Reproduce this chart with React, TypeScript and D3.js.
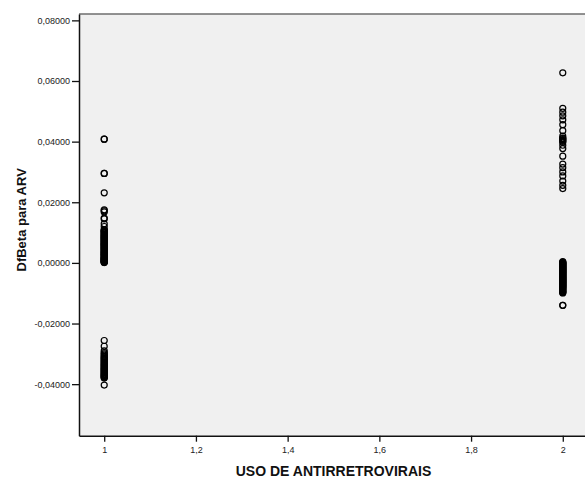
import { useEffect, useRef } from "react";
import * as d3 from "d3";

// DfBeta values, by group of USO DE ANTIRRETROVIRAIS
const group1Values = [
  0.0408, 0.0408, 0.0295, 0.0295, 0.0231, 0.0175, 0.0172, 0.0168, 0.0148, 0.0145,
  0.0129, 0.012, 0.011, 0.0108, 0.0106, 0.0104, 0.0102, 0.01, 0.0098, 0.0095,
  0.0093, 0.0091, 0.0089, 0.0087, 0.0085, 0.0083, 0.0081, 0.0079, 0.0077, 0.0075,
  0.0073, 0.0071, 0.0069, 0.0067, 0.0065, 0.0063, 0.0061, 0.006, 0.0058, 0.0056,
  0.0054, 0.0052, 0.005, 0.0048, 0.0046, 0.0044, 0.0042, 0.004, 0.0038, 0.0036,
  0.0034, 0.0032, 0.0031, 0.0029, 0.0027, 0.0025, 0.0024, 0.0022, 0.002, 0.0018,
  0.0017, 0.0015, 0.0014, 0.0012, 0.0011, 0.0009, 0.0008, 0.0006, 0.0005, 0.0004,
  0.0003, 0.0002, 0.0001,
  -0.0256, -0.0275, -0.029, -0.0296, -0.03, -0.0304, -0.0308, -0.0311, -0.0314,
  -0.0317, -0.032, -0.0323, -0.0326, -0.0329, -0.0332, -0.0335, -0.0338, -0.034,
  -0.0343, -0.0346, -0.0348, -0.0351, -0.0353, -0.0356, -0.0358, -0.0361, -0.0363,
  -0.0366, -0.0368, -0.037, -0.0372, -0.0374, -0.0376, -0.0378, -0.038, -0.0403,
];

const group2Values = [
  0.0627, 0.051, 0.0497, 0.0485, 0.0472, 0.0456, 0.0436, 0.0418, 0.0412, 0.041,
  0.0407, 0.0404, 0.0401, 0.0398, 0.0388, 0.0377, 0.0352, 0.0326, 0.0314, 0.03,
  0.0287, 0.027, 0.0256, 0.0245,
  0.0004, 0.0002, 0.0001, -0.0001, -0.0002, -0.0004, -0.0005, -0.0007, -0.0008,
  -0.001, -0.0011, -0.0013, -0.0014, -0.0016, -0.0017, -0.0019, -0.002, -0.0022,
  -0.0023, -0.0025, -0.0026, -0.0028, -0.0029, -0.0031, -0.0032, -0.0034, -0.0035,
  -0.0037, -0.0038, -0.004, -0.0041, -0.0043, -0.0044, -0.0046, -0.0047, -0.0049,
  -0.005, -0.0052, -0.0053, -0.0055, -0.0056, -0.0058, -0.0059, -0.0061, -0.0062,
  -0.0064, -0.0065, -0.0067, -0.0068, -0.007, -0.0071, -0.0073, -0.0074, -0.0076,
  -0.0077, -0.0079, -0.008, -0.0082, -0.0084, -0.0086, -0.0088, -0.009, -0.0092,
  -0.0094, -0.0096, -0.0098, -0.0099, -0.014, -0.014,
];

const xTicks = [1, 1.2, 1.4, 1.6, 1.8, 2];
const yTicks = [-0.04, -0.02, 0, 0.02, 0.04, 0.06, 0.08];

const width = 585;
const height = 482;

export default function App() {
  const svgRef = useRef<SVGSVGElement>(null);

  useEffect(() => {
    if (!svgRef.current) return;
    const svg = d3.select(svgRef.current);
    svg.selectAll("*").remove();

    const left = 79;
    const right = 588;
    const top = 14;
    const bottom = 435.7;

    const x = d3.scaleLinear().domain([0.945, 2.055]).range([left, right]);
    const y = d3.scaleLinear().domain([-0.057, 0.0821]).range([bottom, top]);

    const points = [
      ...group1Values.map((v) => ({ g: 1, v })),
      ...group2Values.map((v) => ({ g: 2, v })),
    ];

    // plot background
    svg
      .append("rect")
      .attr("x", left)
      .attr("y", top)
      .attr("width", right - left)
      .attr("height", bottom - top)
      .attr("fill", "#f0f0f0");

    svg
      .append("line")
      .attr("x1", left)
      .attr("x2", right)
      .attr("y1", top)
      .attr("y2", top)
      .attr("stroke", "#6e6e6e")
      .attr("stroke-width", 1.5);

    const fmtY = (d: number) => d3.format(".5f")(d).replace(".", ",").replace("−", "-");
    const fmtX = (d: number) => String(+d.toFixed(1)).replace(".", ",");

    const yAxis = svg
      .append("g")
      .attr("transform", `translate(${left},0)`)
      .call(d3.axisLeft(y).tickValues(yTicks).tickSize(7).tickSizeOuter(0).tickFormat((d) => fmtY(+d)));
    const xAxis = svg
      .append("g")
      .attr("transform", `translate(0,${bottom})`)
      .call(d3.axisBottom(x).tickValues(xTicks).tickSize(6).tickSizeOuter(0).tickFormat((d) => fmtX(+d)));

    for (const ax of [yAxis, xAxis]) {
      ax.select(".domain").attr("stroke", "#111").attr("stroke-width", 1.5);
      ax.selectAll(".tick line").attr("stroke", "#111").attr("stroke-width", 1.3);
      ax.selectAll(".tick text")
        .attr("fill", "#222")
        .attr("font-family", "Arial, 'Liberation Sans', sans-serif")
        .attr("font-size", 9);
    }
    yAxis.selectAll(".tick text").attr("x", -9);
    xAxis.selectAll(".tick text").attr("y", 11);

    svg
      .append("g")
      .selectAll("circle")
      .data(points)
      .join("circle")
      .attr("cx", (d) => x(d.g))
      .attr("cy", (d) => y(d.v))
      .attr("r", 3)
      .attr("fill", "none")
      .attr("stroke", "#000")
      .attr("stroke-width", 1.2);

    svg
      .append("text")
      .attr("x", (left + right) / 2)
      .attr("y", 476)
      .attr("text-anchor", "middle")
      .attr("font-family", "Arial, 'Liberation Sans', sans-serif")
      .attr("font-weight", "bold")
      .attr("font-size", 14)
      .attr("fill", "#111")
      .text("USO DE ANTIRRETROVIRAIS");

    svg
      .append("text")
      .attr("transform", `translate(26,${(top + bottom) / 2 - 5}) rotate(-90)`)
      .attr("text-anchor", "middle")
      .attr("font-family", "Arial, 'Liberation Sans', sans-serif")
      .attr("font-weight", "bold")
      .attr("font-size", 13)
      .attr("fill", "#111")
      .text("DfBeta para ARV");
  }, []);

  return (
    <svg
      ref={svgRef}
      width={width}
      height={height}
      style={{ position: "absolute", left: 0, top: 0, background: "#fff" }}
    />
  );
}
